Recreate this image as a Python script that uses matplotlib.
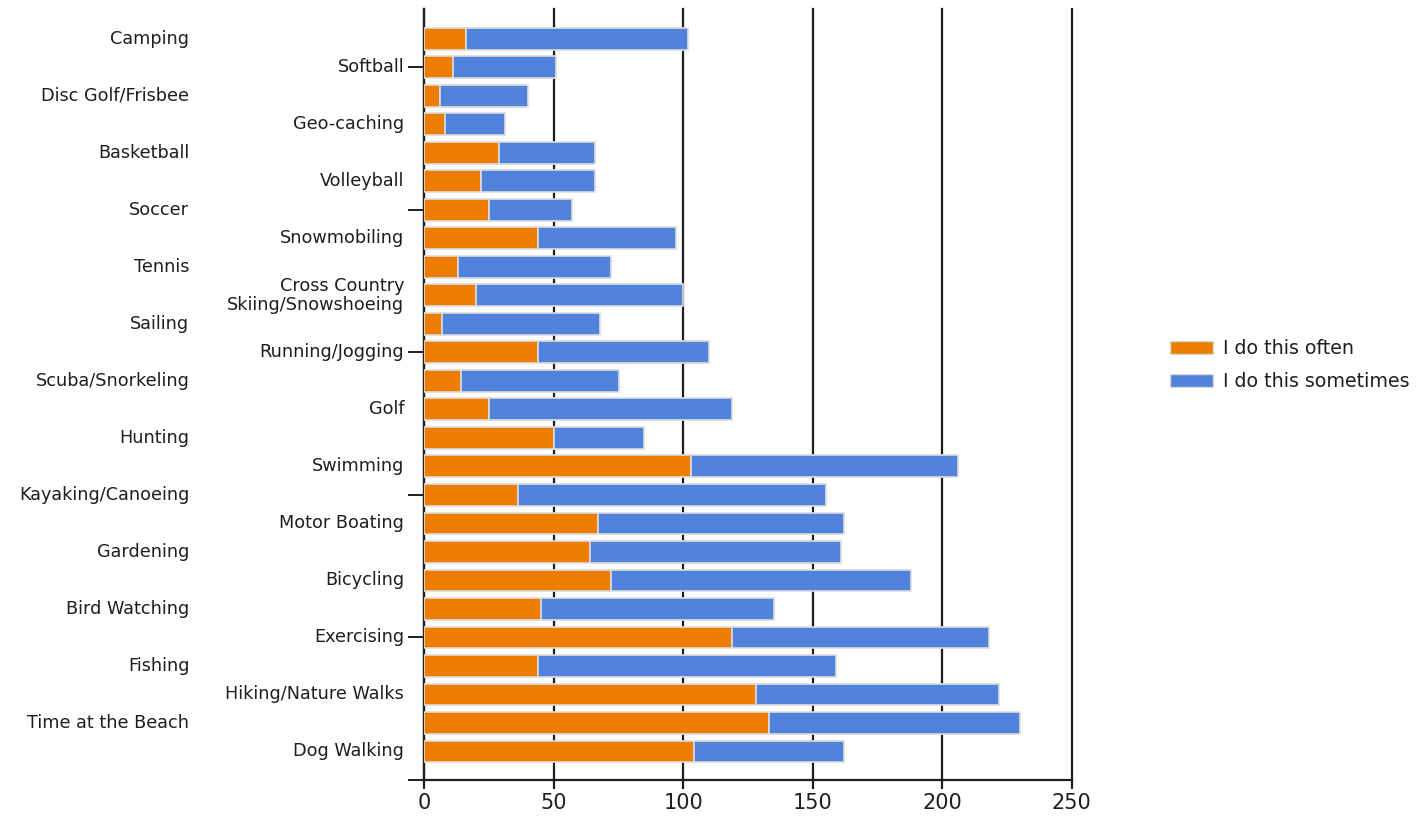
import numpy as np
import matplotlib
matplotlib.use("Agg")
from matplotlib import pyplot as plt
from matplotlib.patches import Patch

activities = ["Camping", "Softball", "Disc Golf/Frisbee", "Geo-caching", "Basketball",
              "Volleyball", "Soccer", "Snowmobiling", "Tennis",
              "Cross Country\nSkiing/Snowshoeing", "Sailing", "Running/Jogging",
              "Scuba/Snorkeling", "Golf", "Hunting", "Swimming", "Kayaking/Canoeing",
              "Motor Boating", "Gardening", "Bicycling", "Bird Watching", "Exercising",
              "Fishing", "Hiking/Nature Walks", "Time at the Beach", "Dog Walking"]
often = [16, 11, 6, 8, 29, 22, 25, 44, 13, 20, 7, 44, 14, 25, 50,
         103, 36, 67, 64, 72, 45, 119, 44, 128, 133, 104]
sometimes = [86, 40, 34, 23, 37, 44, 32, 53, 59, 80, 61, 66, 61, 94, 35,
             103, 119, 95, 97, 116, 90, 99, 115, 94, 97, 58]
series = ["I do this often", "I do this sometimes"]
xticks = [0, 50, 100, 150, 200, 250]

orange = "#ed7d00"
blue = "#5183dc"
edge = "#dcdcdc"
ink = "#1e1e1e"

fig = plt.figure(figsize=(14.16, 8.16), dpi=100)
ax = fig.add_axes([0.29965, 0.04412, 0.75690 - 0.29965, 0.98897 - 0.04412])

y = np.arange(len(activities))
ax.barh(y, often, height=0.77, color=orange, edgecolor=edge, linewidth=1.2, zorder=3)
ax.barh(y, sometimes, left=often, height=0.77, color=blue, edgecolor=edge,
        linewidth=1.2, zorder=3)

ax.set_xlim(0, 250)
ax.set_ylim(26, -1.05)
ax.set_xticks(xticks)
ax.set_xticklabels([str(t) for t in xticks], fontsize=15, color=ink)
ax.xaxis.grid(True, color=ink, linewidth=1.6)
ax.set_axisbelow(True)
for gl in ax.get_xgridlines():
    gl.set_clip_on(False)

ax.set_yticks([1, 6, 11, 16, 21, 26])
ax.set_yticklabels([])
ax.tick_params(axis="y", direction="out", length=11.5, width=1.4, color=ink)
ax.tick_params(axis="x", direction="out", length=6.5, width=1.6, color=ink, pad=3)

for s in ["top", "right"]:
    ax.spines[s].set_visible(False)
for s in ["left", "bottom"]:
    ax.spines[s].set_color(ink)
    ax.spines[s].set_linewidth(1.6)

# staggered category labels
trans = ax.get_yaxis_transform()
for i, name in enumerate(activities):
    xpos = -0.031 if i % 2 else -0.363
    ax.text(xpos, i, name, transform=trans, ha="right", va="center",
            fontsize=12.7, color=ink, linespacing=1.05, multialignment="right")

handles = [Patch(facecolor=orange, edgecolor=edge), Patch(facecolor=blue, edgecolor=edge)]
fig.legend(handles, series, loc="center left", bbox_to_anchor=(0.826, 0.5527),
           frameon=False, fontsize=13.7, handlelength=2.3, handleheight=0.7,
           handletextpad=0.5, labelspacing=0.75, borderpad=0, borderaxespad=0,
           labelcolor=ink)

fig.savefig("out.png", dpi=100)
